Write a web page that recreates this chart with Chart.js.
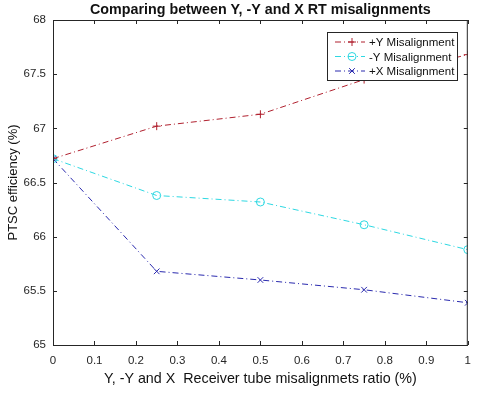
<!DOCTYPE html>
<html>
<head>
<meta charset="utf-8">
<script src="https://cdn.jsdelivr.net/npm/chart.js@4"></script>
<style>
  html, body { margin: 0; padding: 0; background: #fff; }
  #wrap { width: 480px; height: 393px; }
</style>
</head>
<body>
<div id="wrap"><canvas id="myChart" width="480" height="393"></canvas></div>
<script>
// data
const ratios = [0, 0.25, 0.5, 0.75, 1];
const plusY = [66.72, 67.02, 67.13, 67.45, 67.68];
const minusY = [66.72, 66.38, 66.32, 66.11, 65.88];
const plusX = [66.72, 65.68, 65.60, 65.51, 65.39];
const seriesNames = ['+Y Misalignment', '-Y Misalignment', '+X Misalignment'];
const titleText = 'Comparing between Y, -Y and X RT misalignments';
const xTitle = 'Y, -Y and X  Receiver tube misalignmets ratio (%)';
const yTitle = 'PTSC efficiency (%)';

const font = "'Liberation Sans', Arial, sans-serif";
const toPts = vals => ratios.map((r, i) => ({ x: r, y: vals[i] }));
const fmt = v => String(Math.round(v * 10) / 10);

// box, inward ticks, title and legend drawn like a MATLAB figure
const matlabLook = {
    id: 'matlabLook',
    afterDraw(chart) {
        const { ctx, chartArea: a, scales } = chart;
        ctx.save();
        ctx.strokeStyle = '#262626';
        ctx.lineWidth = 1;
        ctx.strokeRect(a.left + 0.5, a.top + 0.5, a.right - a.left - 1, a.bottom - a.top);
        ctx.beginPath();
        scales.x.ticks.forEach(t => {
            const px = Math.round(scales.x.getPixelForValue(t.value)) + 0.5;
            ctx.moveTo(px, a.bottom); ctx.lineTo(px, a.bottom - 4);
            ctx.moveTo(px, a.top); ctx.lineTo(px, a.top + 4);
        });
        scales.y.ticks.forEach(t => {
            const py = Math.round(scales.y.getPixelForValue(t.value)) + 0.5;
            ctx.moveTo(a.left, py); ctx.lineTo(a.left + 4, py);
            ctx.moveTo(a.right, py); ctx.lineTo(a.right - 4, py);
        });
        ctx.stroke();

        // title
        ctx.fillStyle = '#111';
        ctx.font = 'bold 14.3px ' + font;
        ctx.textAlign = 'center';
        ctx.textBaseline = 'middle';
        ctx.fillText(titleText, (a.left + a.right) / 2, 10);

        // legend
        const lx = 327, ly = 32, lw = 130, lh = 48;
        ctx.fillStyle = '#fff';
        ctx.fillRect(lx, ly, lw, lh);
        ctx.strokeStyle = '#262626';
        ctx.strokeRect(lx + 0.5, ly + 0.5, lw, lh);
        chart.data.datasets.forEach((ds, i) => {
            const y = ly + 10 + i * 14.5;
            ctx.strokeStyle = ds.borderColor;
            ctx.lineWidth = 1;
            ctx.setLineDash(ds.borderDash);
            ctx.beginPath();
            ctx.moveTo(lx + 8, y); ctx.lineTo(lx + 38, y);
            ctx.stroke();
            ctx.setLineDash([]);
            ctx.fillStyle = 'rgba(0,0,0,0)';
            Chart.helpers.drawPoint(ctx, {
                pointStyle: ds.pointStyle, radius: 4, rotation: 0, borderWidth: 1
            }, lx + 25, y);
            ctx.fillStyle = '#111';
            ctx.font = '11.5px ' + font;
            ctx.textAlign = 'left';
            ctx.fillText(ds.label, lx + 42, y + 1);
        });
        ctx.restore();
    }
};

const mk = (label, vals, color, style) => ({
    label: label,
    data: toPts(vals),
    borderColor: color,
    backgroundColor: 'rgba(0,0,0,0)',
    borderWidth: 1,
    borderDash: [6, 3, 1, 3],
    pointStyle: style,
    pointRadius: 4,
    pointBorderColor: color,
    pointBackgroundColor: 'rgba(0,0,0,0)',
    pointBorderWidth: 1,
    tension: 0
});

const ctx = document.getElementById('myChart').getContext('2d');
new Chart(ctx, {
    type: 'line',
    data: {
        datasets: [
            mk(seriesNames[0], plusY, '#B0202E', 'cross'),
            mk(seriesNames[1], minusY, '#2ED8E2', 'circle'),
            mk(seriesNames[2], plusX, '#2A2AAE', 'crossRot')
        ]
    },
    options: {
        responsive: false,
        animation: false,
        layout: { padding: { left: 5, right: 8, top: 20, bottom: 0 } },
        plugins: {
            legend: { display: false },
            title: { display: false },
            tooltip: { enabled: false }
        },
        scales: {
            x: {
                type: 'linear',
                min: 0,
                max: 1,
                ticks: { stepSize: 0.1, callback: fmt, color: '#262626', font: { family: font, size: 11.5 }, padding: 9, maxRotation: 0 },
                grid: { display: false, drawTicks: false },
                border: { display: false },
                title: { display: true, text: xTitle, color: '#111', font: { family: font, size: 14.3 }, padding: { top: 3, bottom: 5 } },
                afterFit: s => { s.height = 48; }
            },
            y: {
                min: 65,
                max: 68,
                ticks: { stepSize: 0.5, callback: fmt, color: '#262626', font: { family: font, size: 11.5 }, padding: 7 },
                grid: { display: false, drawTicks: false },
                border: { display: false },
                title: { display: true, text: yTitle, color: '#111', font: { family: font, size: 13 }, padding: { top: 1, bottom: 0 } },
                afterFit: s => { s.width = 48; }
            }
        }
    },
    plugins: [matlabLook]
});
</script>
</body>
</html>
